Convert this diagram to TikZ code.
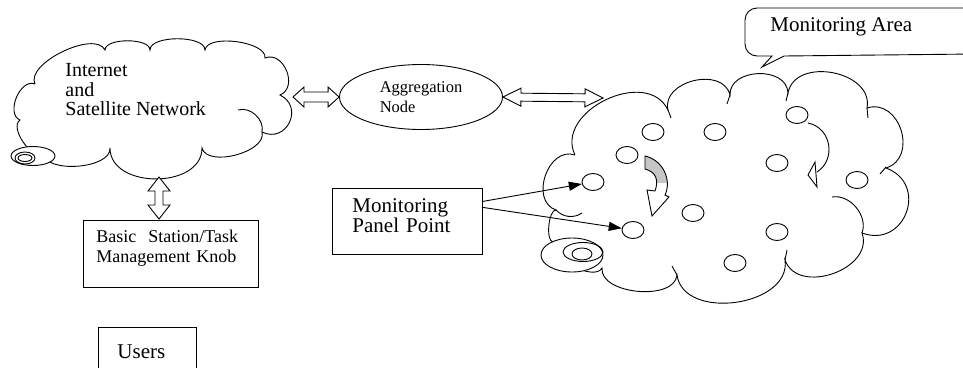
\documentclass[tikz,border=0pt]{standalone}
\usepackage{fontspec}
\setmainfont{Liberation Serif}
\usetikzlibrary{arrows.meta,calc,shapes.geometric}

\begin{document}
\begin{tikzpicture}[x=1pt,y=-1pt,line width=0.9pt,
  txt/.style={font=\fontsize{21}{20}\selectfont},
  tbox/.style={draw,rectangle,anchor=north west,align=left,inner xsep=#1,inner ysep=10pt},
  sensor/.style={draw,ellipse,minimum width=22pt,minimum height=17pt,inner sep=0pt},
  bump/.style={bend left=90,looseness=#1},
  pointer/.style={-{Triangle[length=13pt,width=9pt]}},
  blockarrow/.style n args={3}{to path={
    -- ($(\tikztostart)!#1!(\tikztotarget)!#2!90:(\tikztotarget)$)
    -- ($(\tikztostart)!#1!(\tikztotarget)!#3!90:(\tikztotarget)$)
    -- ($(\tikztotarget)!#1!(\tikztostart)!#3!-90:(\tikztostart)$)
    -- ($(\tikztotarget)!#1!(\tikztostart)!#2!-90:(\tikztostart)$)
    -- (\tikztotarget)
    -- ($(\tikztotarget)!#1!(\tikztostart)!#2!90:(\tikztostart)$)
    -- ($(\tikztotarget)!#1!(\tikztostart)!#3!90:(\tikztostart)$)
    -- ($(\tikztostart)!#1!(\tikztotarget)!#3!-90:(\tikztotarget)$)
    -- ($(\tikztostart)!#1!(\tikztotarget)!#2!-90:(\tikztotarget)$)
    -- cycle}}]

\useasboundingbox (0,0) rectangle (963,367);
\clip (0,0) rectangle (963,367);

% internet cloud
\draw (35,84) to[bump=0.75] (105,50) to[bump=0.7] (150,50) to[bump=0.7] (205,50) to[bump=0.7] (265,58) to[bump=1.3] (280,95) to[bump=1.7] (262,132) to[bump=0.85] (202,148) to[bump=1.15] (110,148) to[bump=0.8] (43,153) to[bump=0.85] (20,120) to[bump=1.05] (35,84);
\draw (238,110) to[bend left=60] (262,132);
\draw[fill=white] (33,156) ellipse[x radius=22,y radius=9.5];
\draw (25,158) ellipse[x radius=10,y radius=6];
\draw (25,158) ellipse[x radius=7,y radius=3.5];
\node[font=\fontsize{20}{19.5}\selectfont,align=left,anchor=north west,inner sep=0pt] (inet) at (65,63) {Internet\\and\\Satellite Network};

% monitoring area cloud
\draw (575,155) to[bump=1.2] (668,110) to[bump=1.2] (730,95) to[bump=1.2] (788,93) to[bump=1.2] (867,108) to[bump=1.4] (886,168) to[bump=1.7] (862,233) to[bump=1.2] (785,260) to[bump=1.1] (677,275) to[bump=0.9] (602,268) to[bump=0.75] (553,242) to[bump=0.6] (556,210) to[bump=1.25] (575,155);
\draw (832,197) to[bend left=60] (862,233);
\draw (556,210) to[bend right=40] (582,213);
\draw (886,167) -- (880,174);
\draw (668,110) -- (671,118);
\draw (730,95) -- (727,104);
\draw (788,93) -- (786,101);
\draw (867,108) -- (868,118);
\draw (785,260) -- (787,250);
\draw (677,275) -- (672,266);
\draw[fill=white] (572,255) ellipse[x radius=31,y radius=17];
\draw (583,252) ellipse[x radius=20,y radius=9.5];
\draw (582,254) ellipse[x radius=10,y radius=6];

\node[sensor] (s1) at (653,132) {};
\node[sensor] (s2) at (715,132) {};
\node[sensor] (s3) at (797,115) {};
\node[sensor] (s4) at (627,155) {};
\node[sensor] (s5) at (777,163) {};
\node[sensor] (s6) at (593,182) {};
\node[sensor] (s7) at (857,180) {};
\node[sensor] (s8) at (693,213) {};
\node[sensor] (s9) at (633,230) {};
\node[sensor] (s10) at (777,232) {};
\node[sensor] (s11) at (735,263) {};

% curved arrows in the area
\begin{scope}
\clip (630,140) rectangle (690,182);
\fill[gray!45] (645,156) .. controls (663,160) and (672,180) .. (665,195) -- (655,191) .. controls (659,180) and (656,172) .. (645,169) -- cycle;
\end{scope}
\draw (645,156) .. controls (663,160) and (672,180) .. (665,195) -- (669,197) -- (652,216) -- (647,190) -- (655,191) .. controls (659,180) and (656,172) .. (645,169) -- cycle;
\draw (808,123) .. controls (832,128) and (836,160) .. (817,172);
\draw[fill=white] (815,162) -- (808,175) -- (817,187) -- cycle;

% callout
\draw[fill=white] (772,56) [rounded corners=12pt] -- (745,56) -- (745,8) -- (975,8) -- (975,54) [sharp corners] -- (784,56) -- (762,67) -- cycle;
\node[txt,anchor=west,inner sep=0pt] (area) at (770,27) {Monitoring Area};

% boxes
\node[draw,ellipse,minimum width=163pt,minimum height=65pt,align=left,font=\fontsize{16.5}{20}\selectfont] (agg) at (421,97) {Aggregation\\Node};
\node[tbox=13pt,text width=149pt,font=\fontsize{18}{20}\selectfont] (knob) at (83,220) {Basic~~Station/Task\\Management Knob\\[-5pt]\mbox{}};
\node[tbox=20pt,text width=110pt,txt] (panel) at (332,188) {Monitoring\\Panel Point\\[-8pt]\mbox{}};
\node[tbox=19pt,text width=60pt,inner ysep=17pt,txt] (users) at (98,327) {Users\\\mbox{}};

% links
\coordinate (inetR) at (293,97);
\coordinate (areaL) at (603,98);
\coordinate (inetB) at (159,177);
\coordinate (knobT) at (159,219);
\draw[fill=white] (inetR) to[blockarrow={11pt}{10pt}{5pt}] (agg.west);
\draw[fill=white] (agg.east) to[blockarrow={18pt}{9pt}{4pt}] (areaL);
\draw[fill=white] (inetB) to[blockarrow={14pt}{11pt}{4pt}] (knobT);
\draw[pointer] ([yshift=20pt]panel.east) -- (s6);
\draw[pointer] ([yshift=14pt]panel.east) -- (s9);

\end{tikzpicture}
\end{document}
